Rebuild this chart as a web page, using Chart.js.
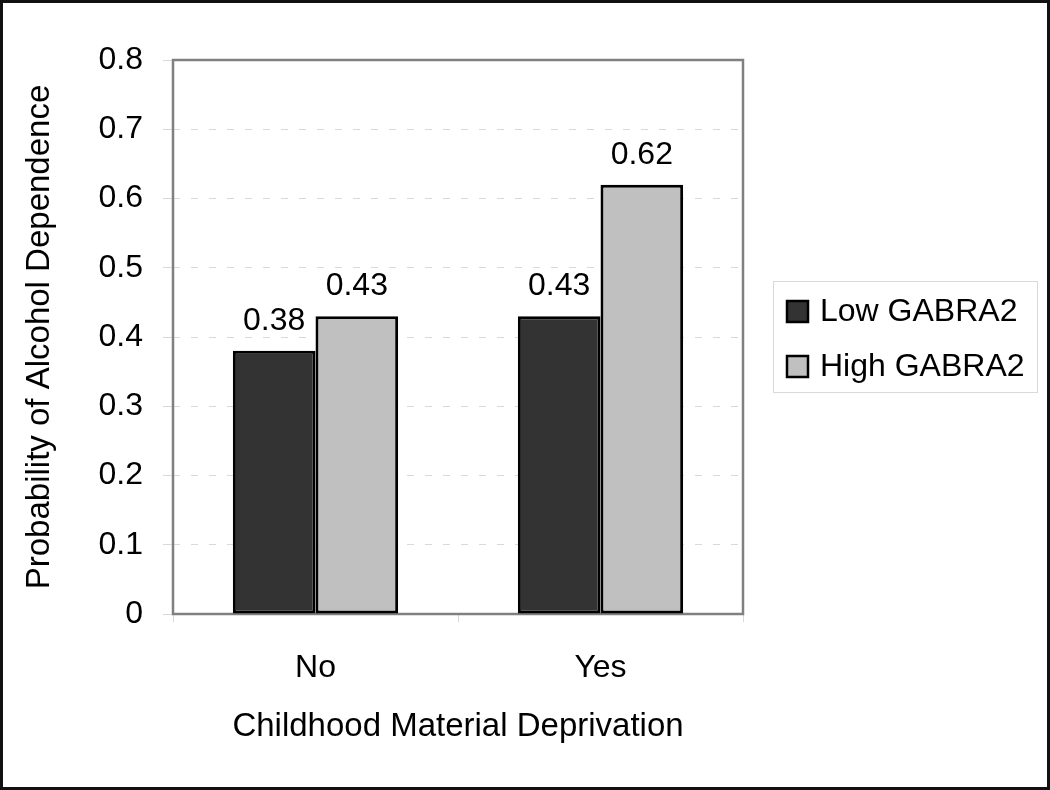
<!DOCTYPE html>
<html>
<head>
<meta charset="utf-8">
<script src="https://cdn.jsdelivr.net/npm/chart.js@4"></script>
<style>
  html, body { margin: 0; padding: 0; background: #fff; }
  #wrap { width: 1050px; height: 790px; }
</style>
</head>
<body>
<div id="wrap"><canvas id="chart" width="1050" height="790"></canvas></div>
<script>
const categories = ['No', 'Yes'];
const lowGabra2 = [0.38, 0.43];
const highGabra2 = [0.43, 0.62];
const seriesNames = ['Low GABRA2', 'High GABRA2'];
const yTickLabels = ['0', '0.1', '0.2', '0.3', '0.4', '0.5', '0.6', '0.7', '0.8'];

Chart.defaults.font.family = '"Liberation Sans", Arial, sans-serif';
Chart.defaults.color = '#000';

// frame round the plot area, drawn under the bars
const plotFrame = {
  id: 'plotFrame',
  beforeDatasetsDraw(chart) {
    const { ctx, chartArea: a } = chart;
    ctx.save();
    ctx.strokeStyle = '#808080';
    ctx.lineWidth = 2.5;
    ctx.strokeRect(a.left, a.top, a.right - a.left, a.bottom - a.top);
    ctx.restore();
  }
};

// value labels, legend box and outer border
const extras = {
  id: 'extras',
  afterDraw(chart) {
    const ctx = chart.ctx;
    ctx.save();
    ctx.font = '32px "Liberation Sans", Arial, sans-serif';
    ctx.fillStyle = '#000';
    ctx.textAlign = 'center';
    ctx.textBaseline = 'alphabetic';
    chart.data.datasets.forEach((ds, di) => {
      chart.getDatasetMeta(di).data.forEach((bar, i) => {
        ctx.fillText(ds.data[i].toFixed(2), bar.x, bar.y - 21);
      });
    });

    // legend
    ctx.strokeStyle = '#d9d9d9';
    ctx.lineWidth = 1;
    ctx.strokeRect(773.5, 281.5, 264, 111);
    ctx.textAlign = 'left';
    ctx.textBaseline = 'middle';
    chart.data.datasets.forEach((ds, di) => {
      const y = 311 + di * 55;
      ctx.fillStyle = ds.backgroundColor;
      ctx.fillRect(787, y - 10, 21, 21);
      ctx.strokeStyle = '#000';
      ctx.lineWidth = 2.5;
      ctx.strokeRect(787, y - 10, 21, 21);
      ctx.fillStyle = '#000';
      ctx.fillText(ds.label, 820, y + 1);
    });

    // outer border
    ctx.strokeStyle = '#111';
    ctx.lineWidth = 3;
    ctx.strokeRect(1.5, 1.5, 1047, 787);
    ctx.restore();
  }
};

new Chart(document.getElementById('chart'), {
  type: 'bar',
  data: {
    labels: categories,
    datasets: [
      {
        label: seriesNames[0],
        data: lowGabra2,
        backgroundColor: '#333333',
        borderColor: '#000',
        borderWidth: 3,
        borderSkipped: false
      },
      {
        label: seriesNames[1],
        data: highGabra2,
        backgroundColor: '#c0c0c0',
        borderColor: '#000',
        borderWidth: 3,
        borderSkipped: false
      }
    ]
  },
  options: {
    responsive: false,
    animation: false,
    layout: { padding: { left: 20, top: 60, right: 307, bottom: 20 } },
    datasets: { bar: { categoryPercentage: 0.58, barPercentage: 1 } },
    scales: {
      x: {
        afterFit(scale) { scale.height = 156; },
        grid: { drawOnChartArea: false, drawTicks: true, tickLength: 8, color: '#d9d9d9', offset: true },
        border: { display: false },
        ticks: { font: { size: 32 }, padding: 27 },
        title: {
          display: true,
          text: 'Childhood Material Deprivation',
          font: { size: 33, lineHeight: 1.2 },
          padding: { top: 0, bottom: 23 }
        }
      },
      y: {
        min: 0,
        max: 0.8,
        afterFit(scale) { scale.width = 153; },
        grid: { color: '#d9d9d9', tickLength: 10, lineWidth: 1 },
        border: { display: false, dash: [7, 11] },
        ticks: {
          stepSize: 0.1,
          font: { size: 32 },
          padding: 20,
          callback: (v, i) => yTickLabels[i]
        },
        title: {
          display: true,
          text: 'Probability of Alcohol Dependence',
          font: { size: 33, lineHeight: 1.2 },
          padding: { top: 0, bottom: 0 }
        }
      }
    },
    plugins: {
      legend: { display: false },
      tooltip: { enabled: false }
    }
  },
  plugins: [plotFrame, extras]
});
</script>
</body>
</html>
